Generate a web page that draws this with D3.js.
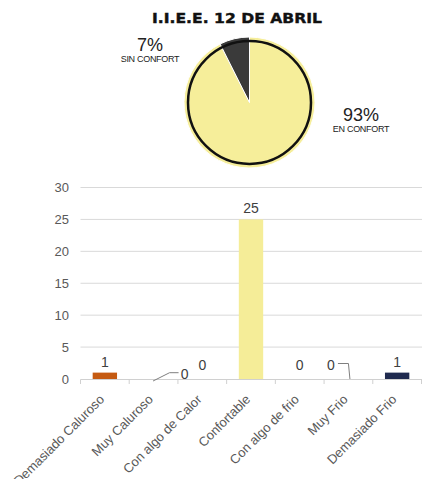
<!DOCTYPE html>
<html>
<head>
<meta charset="utf-8">
<script src="https://cdn.jsdelivr.net/npm/d3@7"></script>
<style>
  body{margin:0;background:#fff;}
  svg{display:block;font-family:"Liberation Sans",Arial,sans-serif;}
</style>
</head>
<body>
<svg id="chart" width="422" height="479"></svg>
<script>
const title = "I.I.E.E. 12 DE ABRIL";

const categories = ["Demasiado Caluroso","Muy Caluroso","Con algo de Calor","Confortable","Con algo de frio","Muy Frio","Demasiado Frio"];
const counts = [1,0,0,25,0,0,1];
const barColors = ["#c55a11","#c55a11","#c55a11","#f5ed98","#1f2a4f","#1f2a4f","#1f2a4f"];
const yTicks = [0,5,10,15,20,25,30];

const pieLabels = ["EN CONFORT","SIN CONFORT"];
const pieValues = [25,2];
const pieColors = ["#f6ee9a","#3a3a3a"];

// label nudges for the zero values (px), like the original
const zeroLabelShift = {
  1:{dx:31,dy:6,leader:"right"},
  2:{dx:0,dy:-3},
  4:{dx:0,dy:-3},
  5:{dx:-17.5,dy:-3,leader:"left"}
};

const svg = d3.select("#chart");
const W = 422, H = 479;

// ---- title
svg.append("text")
  .attr("x",237).attr("y",23)
  .attr("text-anchor","middle")
  .attr("font-family","'DejaVu Sans',sans-serif")
  .attr("font-size",14).attr("font-weight","bold")
  .attr("stroke","#111").attr("stroke-width",0.4)
  .attr("textLength",170).attr("lengthAdjust","spacingAndGlyphs")
  .attr("fill","#111")
  .text(title);

// ---- pie
const cx = 249.5, cy = 102.5, R = 65.5;
const total = d3.sum(pieValues);
const pie = d3.pie().sort(null).value(d=>d)(pieValues);
const arc = d3.arc().innerRadius(0).outerRadius(R);
const gp = svg.append("g").attr("transform",`translate(${cx},${cy})`);
gp.selectAll("path").data(pie).join("path")
  .attr("d",arc)
  .attr("fill",(d,i)=>pieColors[i])
  .attr("stroke","#fff").attr("stroke-width",1);
gp.append("circle").attr("r",R-4).attr("fill","none")
  .attr("stroke","#111").attr("stroke-width",2.5);

const pieLabelPos = [{x:361,y:121},{x:150,y:51}];
pieValues.forEach((v,i)=>{
  const p = pieLabelPos[i];
  svg.append("text").attr("x",p.x).attr("y",p.y)
    .attr("text-anchor","middle").attr("font-size",18).attr("fill","#222")
    .text(Math.round(v/total*100)+"%");
  svg.append("text").attr("x",p.x).attr("y",p.y+11)
    .attr("text-anchor","middle").attr("font-size",9).attr("fill","#222")
    .attr("letter-spacing",-0.3)
    .text(pieLabels[i]);
});

// ---- bars
const x = d3.scaleBand().domain(categories).range([80.5,421.5]).paddingInner(0).paddingOuter(0);
const y = d3.scaleLinear().domain([0,30]).range([379,187.5]);
const barW = x.bandwidth()*0.5;

svg.append("g").selectAll("line").data(yTicks.filter(t=>t>0)).join("line")
  .attr("x1",80.5).attr("x2",W).attr("y1",d=>y(d)).attr("y2",d=>y(d))
  .attr("stroke","#d9d9d9").attr("stroke-width",1);

svg.append("g").selectAll("text").data(yTicks).join("text")
  .attr("x",69).attr("y",d=>y(d)).attr("dy","0.35em")
  .attr("text-anchor","end").attr("font-size",13).attr("fill","#595959")
  .text(d=>d);

svg.append("g").selectAll("rect").data(counts).join("rect")
  .attr("x",(d,i)=>x(categories[i])+x.bandwidth()/2-barW/2)
  .attr("width",barW)
  .attr("y",d=>y(d))
  .attr("height",d=>y(0)-y(d))
  .attr("fill",(d,i)=>barColors[i]);

// axis line + ticks
const ax = svg.append("g");
ax.append("line").attr("x1",80.5).attr("x2",W).attr("y1",379.5).attr("y2",379.5)
  .attr("stroke","#d0d0d0").attr("stroke-width",1.2);
ax.selectAll("line.tk").data(categories.concat(["end"])).join("line").attr("class","tk")
  .attr("x1",(d,i)=>80.5+i*x.bandwidth()).attr("x2",(d,i)=>80.5+i*x.bandwidth())
  .attr("y1",379.5).attr("y2",384).attr("stroke","#d0d0d0");

// value labels
const vl = svg.append("g").attr("font-size",14).attr("fill","#404040").attr("text-anchor","middle");
counts.forEach((v,i)=>{
  const bx = x(categories[i])+x.bandwidth()/2;
  const s = v===0 && zeroLabelShift[i] ? zeroLabelShift[i] : {dx:0,dy:0};
  const lx = bx+s.dx, ly = y(v)-6+s.dy;
  if(s.leader){
    const pts = s.leader==="right"
      ? [[bx-0.5,y(0)+2],[bx+16,ly-6.3],[lx-6,ly-6.3]]
      : [[bx+1.5,y(0)],[bx,ly-6.5],[lx+7,ly-6.5]];
    svg.append("path").attr("d",d3.line()(pts)).attr("fill","none")
      .attr("stroke","#7f7f7f").attr("stroke-width",1);
  }
  vl.append("text").attr("x",lx).attr("y",ly).text(v);
});

// category labels
svg.append("g").selectAll("text").data(categories).join("text")
  .attr("transform",d=>`translate(${x(d)+x.bandwidth()/2-3},397) rotate(-45)`)
  .attr("dy","0.35em").attr("text-anchor","end")
  .attr("font-size",13).attr("fill","#595959")
  .text(d=>d);
</script>
</body>
</html>
